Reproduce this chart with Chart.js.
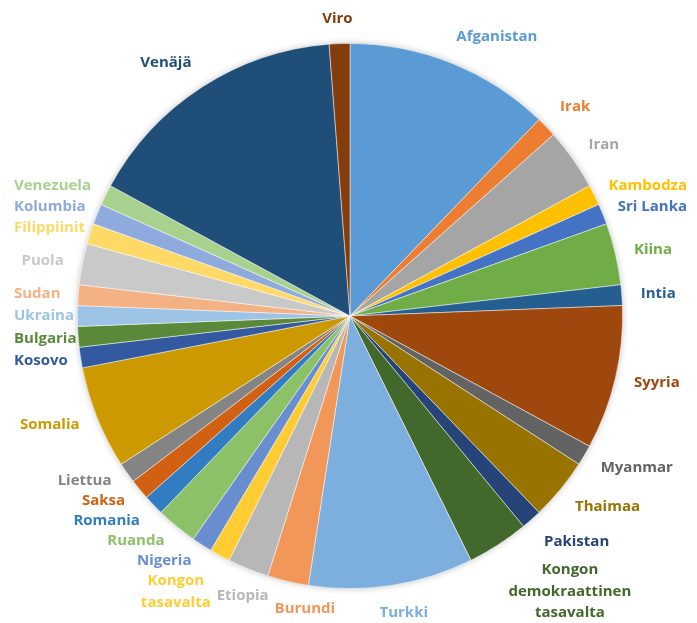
<!DOCTYPE html>
<html lang="fi">
<head>
  <meta charset="utf-8">
  <title>Maat</title>
  <script src="https://cdn.jsdelivr.net/npm/chart.js@4"></script>
  <style>
body {
  margin: 0;
  background: #fff;
}
#wrap {
  width: 697px;
  height: 623px;
  position: relative;
}
  </style>
</head>
<body>
  <div id="wrap"><canvas id="pie"></canvas></div>
  <script>
// slices clockwise from 12 o'clock
const countries = [
  'Afganistan', 'Irak', 'Iran', 'Kambodza', 'Sri Lanka', 'Kiina', 'Intia',
  'Syyria', 'Myanmar', 'Thaimaa', 'Pakistan',
  ['Kongon', 'demokraattinen', 'tasavalta'],
  'Turkki', 'Burundi', 'Etiopia', ['Kongon', 'tasavalta'], 'Nigeria',
  'Ruanda', 'Romania', 'Saksa', 'Liettua', 'Somalia', 'Kosovo', 'Bulgaria',
  'Ukraina', 'Sudan', 'Puola', 'Filippiinit', 'Kolumbia', 'Venezuela',
  'Venäjä', 'Viro'
];
const values = [
  10, 1, 3, 1, 1, 3, 1,
  7, 1, 3, 1,
  3,
  8, 2, 2, 1, 1,
  2, 1, 1, 1, 5, 1, 1,
  1, 1, 2, 1, 1, 1,
  13, 1
];
const colors = [
  '#5B9BD5', '#ED7D31', '#A5A5A5', '#FFC000', '#4472C4', '#70AD47', '#255E91',
  '#9E480E', '#636363', '#997300', '#264478',
  '#43682B',
  '#7CAFDD', '#F1975A', '#B7B7B7', '#FFCD33', '#698ED0',
  '#8CC168', '#327DC2', '#D26012', '#848484', '#CC9A00', '#335AA1', '#5A8A39',
  '#9DC3E6', '#F4B183', '#C9C9C9', '#FFD966', '#8FAADC', '#A9D18E',
  '#1F4E79', '#843C0C'
];

const clamp = (v, lo, hi) => Math.max(lo, Math.min(hi, v));

// soft halo behind the pie, like the office shadow
const haloPlugin = {
  id: 'halo',
  beforeDatasetsDraw(chart) {
    const arc = chart.getDatasetMeta(0).data[0];
    if (!arc) return;
    const p = arc.getProps(['x', 'y', 'outerRadius'], true);
    const ctx = chart.ctx;
    ctx.save();
    ctx.shadowColor = 'rgba(0,0,0,0.28)';
    ctx.shadowBlur = 7;
    ctx.fillStyle = '#fff';
    ctx.beginPath();
    ctx.arc(p.x, p.y, p.outerRadius - 0.5, 0, Math.PI * 2);
    ctx.fill();
    ctx.restore();
  }
};

// outside-end labels, coloured like their slice, nudged apart when they collide
const labelPlugin = {
  id: 'outLabels',
  afterDatasetsDraw(chart) {
    const ctx = chart.ctx;
    const meta = chart.getDatasetMeta(0);
    const lineH = 21.5, textH = 18, gap = 2;
    const minX = 14, maxX = chart.width - 10, minY = 10;
    ctx.save();
    ctx.font = 'bold 15px "Open Sans", sans-serif';
    ctx.textAlign = 'center';
    ctx.textBaseline = 'middle';

    const items = meta.data.map((arc, i) => {
      const p = arc.getProps(['x', 'y', 'startAngle', 'endAngle', 'outerRadius'], true);
      const mid = (p.startAngle + p.endAngle) / 2;
      const dx = Math.cos(mid), dy = Math.sin(mid);
      const ax = p.x + (p.outerRadius + 19) * dx;
      const ay = p.y + (p.outerRadius + 19) * dy;
      const lines = [].concat(countries[i]);
      const w = Math.max(...lines.map(t => ctx.measureText(t).width));
      const h = (lines.length - 1) * lineH + textH;
      let cx = ax + w / 2 * clamp(dx * 2.5, -1, 1);
      let cy = ay + h / 2 * Math.sign(dy) * clamp((Math.abs(dy) - 0.4) * 2.5, 0, 1);
      cx = clamp(cx, minX + w / 2, maxX - w / 2);
      cy = Math.max(cy, minY + h / 2);
      return { i, lines, w, h, cx, cy, dx, dy };
    });

    const hit = (a, b) =>
      Math.abs(a.cx - b.cx) < (a.w + b.w) / 2 + gap &&
      Math.abs(a.cy - b.cy) < (a.h + b.h) / 2 + gap;

    const placed = [];
    // labels under the pie slide sideways
    items.filter(o => o.dy > 0 && Math.abs(o.dx) < 0.5)
      .sort((a, b) => a.cx - b.cx)
      .forEach(o => {
        placed.forEach(q => {
          if (hit(o, q)) o.cx = q.cx + (q.w + o.w) / 2 + gap * 3;
        });
        placed.push(o);
      });
    // labels on the sides slide upwards
    items.filter(o => !placed.includes(o))
      .sort((a, b) => b.cy - a.cy)
      .forEach(o => {
        let moved = true;
        while (moved) {
          moved = false;
          placed.forEach(q => {
            if (hit(o, q)) {
              o.cy = q.cy - (q.h + o.h) / 2 - gap;
              moved = true;
            }
          });
        }
        placed.push(o);
      });

    items.forEach(o => {
      ctx.fillStyle = colors[o.i];
      o.lines.forEach((t, k) => {
        ctx.fillText(t, o.cx, o.cy + (k - (o.lines.length - 1) / 2) * lineH);
      });
    });
    ctx.restore();
  }
};

new Chart(document.getElementById('pie'), {
  type: 'pie',
  data: {
    labels: countries.map(c => [].concat(c).join(' ')),
    datasets: [{
      data: values,
      backgroundColor: colors,
      borderColor: 'rgba(255,255,255,0.6)',
      borderWidth: 0.8
    }]
  },
  options: {
    responsive: true,
    maintainAspectRatio: false,
    animation: false,
    layout: {
      padding: { top: 43, bottom: 34, left: 77, right: 74 }
    },
    plugins: {
      legend: { display: false },
      tooltip: { enabled: true }
    }
  },
  plugins: [haloPlugin, labelPlugin]
});
  </script>
</body>
</html>
